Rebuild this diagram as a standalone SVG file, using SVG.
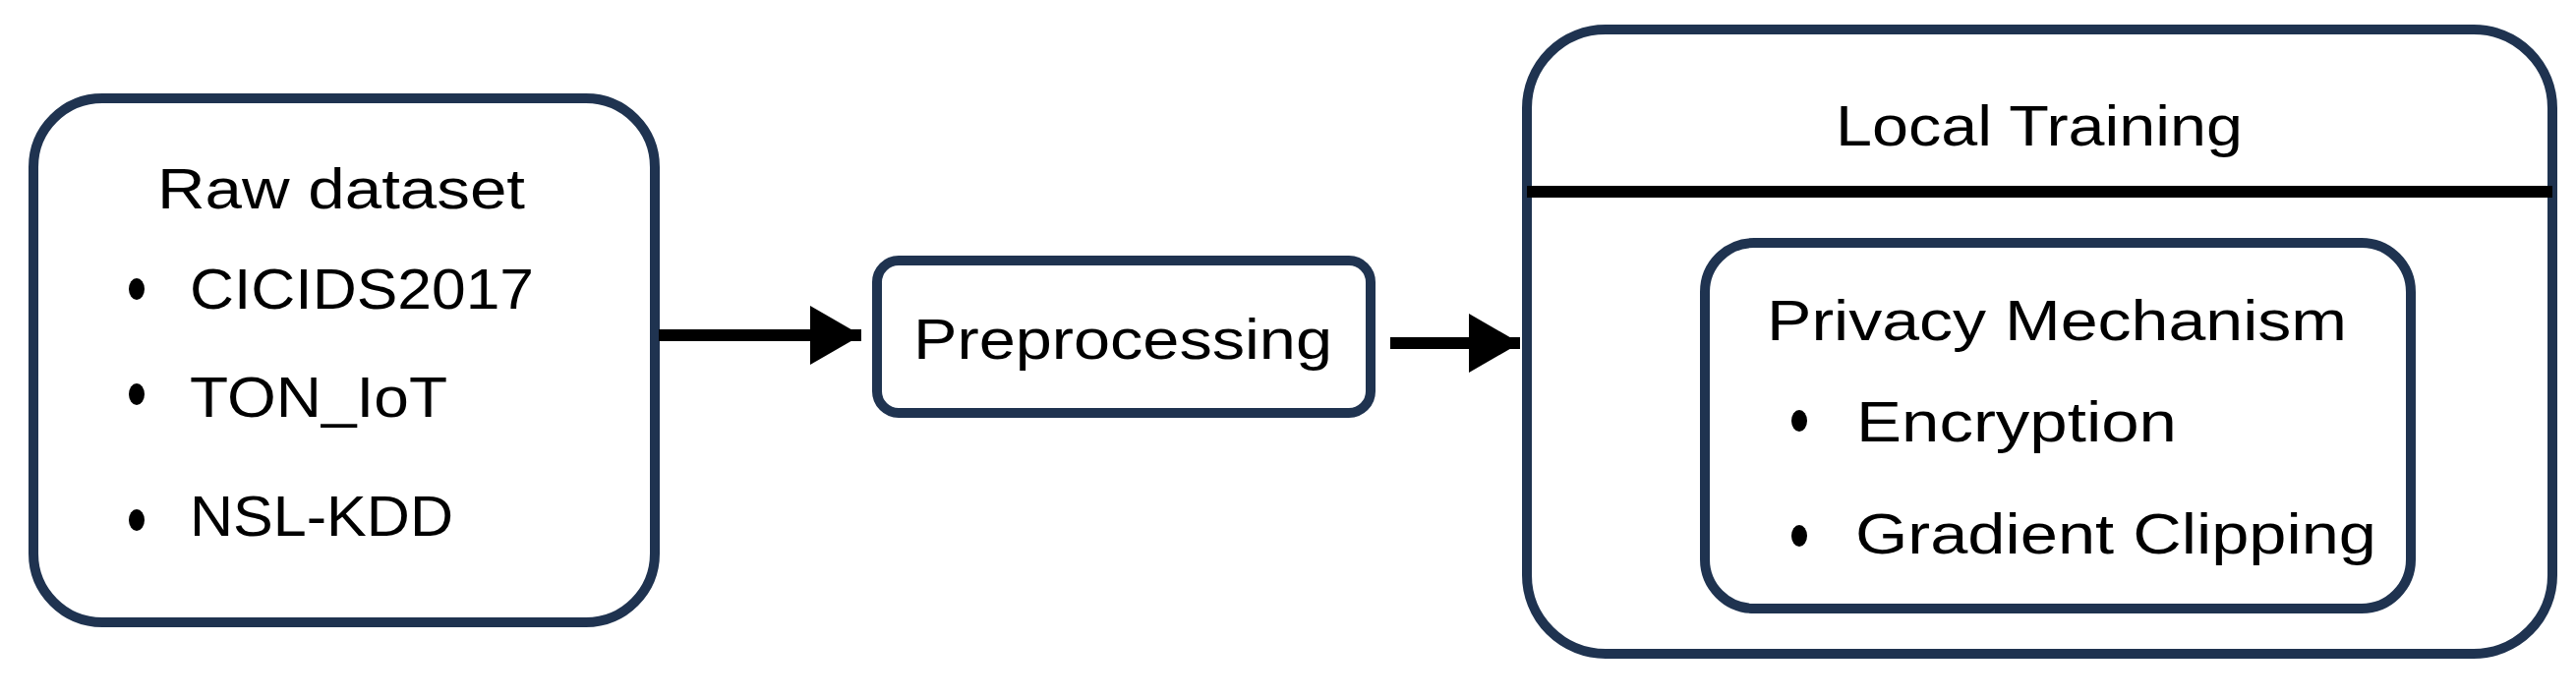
<svg xmlns="http://www.w3.org/2000/svg" width="2620" height="711" viewBox="0 0 2620 711">
<style>
.box{fill:#fff;stroke:#1f3350;stroke-width:10}
text{font-family:"Liberation Sans Narrow","Liberation Sans",Arial,sans-serif;font-size:58px;fill:#000}
.bul{fill:#000}
.con{stroke:#000;stroke-width:12;fill:none}
</style>
<defs><marker id="ah" markerUnits="userSpaceOnUse" markerWidth="60" markerHeight="70" refX="52" refY="30" orient="auto"><path d="M0,0 L52,30 L0,60 Z" fill="#000"/></marker></defs>
<rect width="2620" height="711" fill="#fff"/>
<g id="raw">
<rect class="box" x="34" y="100" width="632" height="533" rx="70"/>
<text x="160" y="212" textLength="374" lengthAdjust="spacingAndGlyphs">Raw dataset</text>
<ellipse class="bul" cx="139" cy="294" rx="8" ry="11"/>
<text x="193" y="314" textLength="350" lengthAdjust="spacingAndGlyphs">CICIDS2017</text>
<ellipse class="bul" cx="139" cy="401" rx="8" ry="11"/>
<text x="193" y="424" textLength="262" lengthAdjust="spacingAndGlyphs">TON_IoT</text>
<ellipse class="bul" cx="139" cy="529" rx="8" ry="11"/>
<text x="193" y="545" textLength="268" lengthAdjust="spacingAndGlyphs">NSL-KDD</text>
</g>
<g id="prep">
<rect class="box" x="892" y="265" width="502" height="155" rx="22"/>
<text x="929" y="365" textLength="426" lengthAdjust="spacingAndGlyphs">Preprocessing</text>
</g>
<g id="local">
<rect class="box" x="1553" y="30" width="1043" height="635" rx="80"/>
<line x1="1553" y1="195" x2="2596" y2="195" stroke="#000" stroke-width="12"/>
<text x="1867" y="148" textLength="414" lengthAdjust="spacingAndGlyphs">Local Training</text>
</g>
<g id="privacy">
<rect class="box" x="1734" y="247" width="718" height="372" rx="50"/>
<text x="1797" y="346" textLength="590" lengthAdjust="spacingAndGlyphs">Privacy Mechanism</text>
<ellipse class="bul" cx="1830" cy="428" rx="8" ry="11"/>
<text x="1888" y="449" textLength="326" lengthAdjust="spacingAndGlyphs">Encryption</text>
<ellipse class="bul" cx="1830" cy="545" rx="8" ry="11"/>
<text x="1887" y="563" textLength="530" lengthAdjust="spacingAndGlyphs">Gradient Clipping</text>
</g>
<g id="connectors">
<line class="con" x1="670" y1="341" x2="876" y2="341" marker-end="url(#ah)"/>
<line class="con" x1="1414" y1="349" x2="1546" y2="349" marker-end="url(#ah)"/>
</g>
</svg>
